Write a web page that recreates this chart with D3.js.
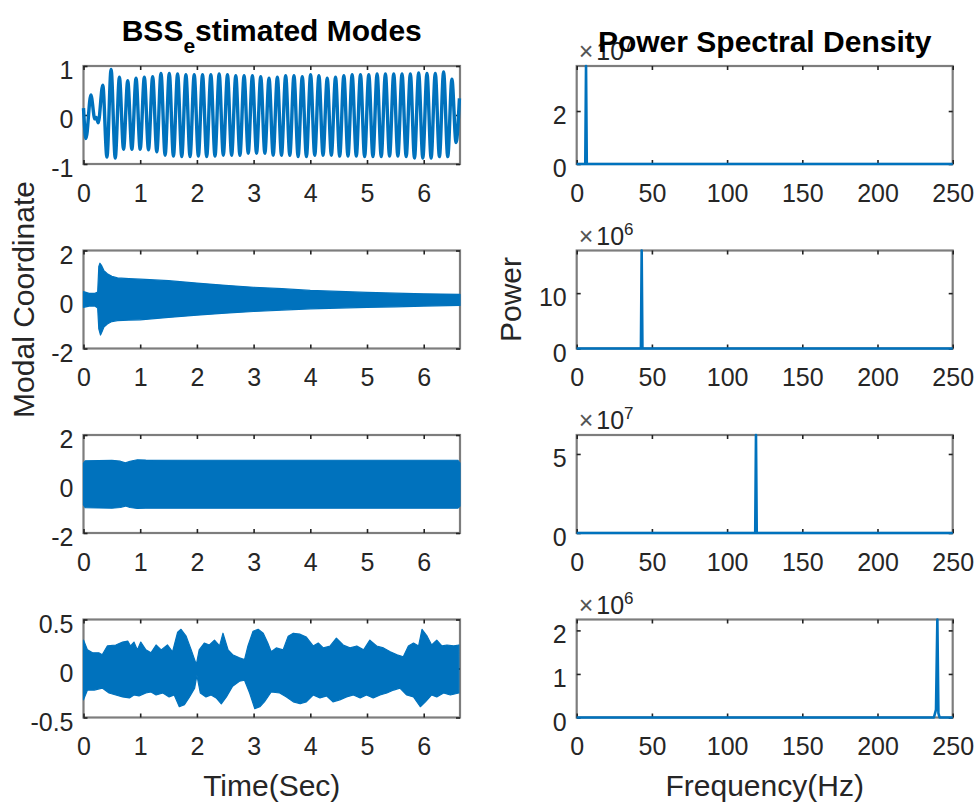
<!DOCTYPE html>
<html>
<head>
<meta charset="utf-8">
<script src="https://cdn.jsdelivr.net/npm/d3@7/dist/d3.min.js"></script>
<style>
  body { margin: 0; background: #fff; }
  text { font-family: "Liberation Sans", Arial, Helvetica, sans-serif; }
</style>
</head>
<body>
<svg id="fig" width="976" height="805"></svg>
<script>
// ---------------- data ----------------
const timeTicks = [0, 1, 2, 3, 4, 5, 6];
const timeMax = 6.64;
const freqTicks = [0, 50, 100, 150, 200, 250];
const freqMax = 250;

const modeYDomains = [[-1, 1], [-2, 2], [-2, 2], [-0.5, 0.5]];
const modeYTicks = [[-1, 0, 1], [-2, 0, 2], [-2, 0, 2], [-0.5, 0, 0.5]];

// Mode 1: turning points of the low-frequency mode
const mode1Onset = [[0, 0.14], [0.044, -0.48], [0.13, 0.41], [0.2, -0.08], [0.225, -0.05], [0.26, -0.16]];
const mode1FirstPeak = 0.34;
const mode1Period = 0.1466;
const mode1Peaks = [0.61, 0.93, 0.77, 0.70, 0.75, 0.77, 0.78, 0.85, 0.85, 0.84, 0.82, 0.82, 0.82, 0.82, 0.84,
  0.82, 0.80, 0.80, 0.80, 0.78, 0.75, 0.77, 0.80, 0.80, 0.78, 0.82, 0.80, 0.75, 0.77, 0.80, 0.82, 0.82, 0.82,
  0.84, 0.84, 0.84, 0.84, 0.84, 0.86, 0.85, 0.85, 0.88, 0.73];
const mode1Troughs = [-0.86, -0.88, -0.70, -0.70, -0.70, -0.71, -0.75, -0.82, -0.84, -0.85, -0.85, -0.84, -0.85,
  -0.84, -0.82, -0.82, -0.82, -0.78, -0.78, -0.78, -0.82, -0.82, -0.82, -0.85, -0.85, -0.82, -0.82, -0.82, -0.84,
  -0.84, -0.84, -0.85, -0.85, -0.85, -0.84, -0.84, -0.85, -0.88, -0.88, -0.88, -0.85, -0.85, -0.56];
const mode1Tail = [[6.63, 0.34]];

// Modes 2-4: upper / lower envelopes [time, value]
const mode2Upper = [[0, 0.32], [0.1, 0.25], [0.2, 0.25], [0.25, 0.3], [0.27, 1.35], [0.29, 1.48], [0.32, 1.38],
  [0.36, 1.18], [0.42, 1.05], [0.5, 0.95], [0.6, 0.88], [0.8, 0.85], [1.0, 0.83], [1.5, 0.77], [2.0, 0.67],
  [2.5, 0.58], [3.0, 0.5], [3.5, 0.44], [4.0, 0.37], [4.5, 0.33], [5.0, 0.29], [5.5, 0.26], [6.0, 0.23], [6.64, 0.21]];
const mode2Lower = [[0, -0.32], [0.1, -0.27], [0.2, -0.27], [0.25, -0.35], [0.27, -1.2], [0.3, -1.45], [0.33, -1.3],
  [0.36, -1.12], [0.42, -1.0], [0.5, -0.9], [0.6, -0.86], [0.8, -0.84], [1.0, -0.83], [1.5, -0.73], [2.0, -0.64],
  [2.5, -0.56], [3.0, -0.49], [3.5, -0.43], [4.0, -0.38], [4.5, -0.35], [5.0, -0.32], [5.5, -0.3], [6.0, -0.27], [6.64, -0.24]];

const mode3Upper = [[0, 0.85], [0.03, 0.95], [0.5, 0.97], [0.65, 0.93], [0.74, 0.86], [0.82, 0.93], [0.95, 0.99],
  [1.1, 0.98], [2.0, 0.97], [3.0, 0.97], [4.0, 0.97], [5.0, 0.97], [6.0, 0.97], [6.6, 0.97], [6.64, 0.85]];
const mode3Lower = [[0, -0.85], [0.03, -0.97], [0.5, -0.99], [0.65, -0.96], [0.74, -0.9], [0.82, -0.96], [0.95, -1.0],
  [1.1, -0.99], [2.0, -0.99], [3.0, -0.99], [4.0, -0.99], [5.0, -0.99], [6.0, -0.99], [6.6, -0.99], [6.64, -0.9]];

const mode4Upper = [[0.00, 0.29], [0.07, 0.19], [0.16, 0.16], [0.27, 0.16], [0.33, 0.14], [0.42, 0.23], [0.57, 0.24],
  [0.69, 0.27], [0.78, 0.28], [0.83, 0.23], [0.89, 0.27], [0.95, 0.19], [1.01, 0.27], [1.10, 0.19], [1.19, 0.16],
  [1.28, 0.24], [1.37, 0.19], [1.48, 0.24], [1.57, 0.17], [1.66, 0.37], [1.72, 0.40], [1.81, 0.33], [1.90, 0.19],
  [1.99, 0.04], [2.04, 0.19], [2.13, 0.26], [2.22, 0.24], [2.31, 0.29], [2.40, 0.23], [2.46, 0.36], [2.55, 0.19],
  [2.63, 0.14], [2.75, 0.11], [2.84, 0.09], [2.90, 0.23], [2.99, 0.38], [3.08, 0.40], [3.17, 0.36], [3.25, 0.26],
  [3.31, 0.17], [3.40, 0.21], [3.52, 0.19], [3.61, 0.33], [3.70, 0.36], [3.82, 0.35], [3.93, 0.32], [4.05, 0.23],
  [4.14, 0.26], [4.23, 0.21], [4.35, 0.23], [4.46, 0.31], [4.58, 0.24], [4.70, 0.21], [4.82, 0.23], [4.94, 0.19],
  [5.05, 0.29], [5.17, 0.23], [5.29, 0.21], [5.41, 0.17], [5.53, 0.14], [5.64, 0.12], [5.73, 0.23], [5.82, 0.26],
  [5.91, 0.23], [5.97, 0.40], [6.06, 0.33], [6.14, 0.24], [6.23, 0.29], [6.32, 0.23], [6.41, 0.24], [6.53, 0.23], [6.62, 0.24]];
const mode4Lower = [[0.00, -0.32], [0.07, -0.22], [0.19, -0.22], [0.33, -0.20], [0.45, -0.25], [0.57, -0.27],
  [0.69, -0.29], [0.81, -0.30], [0.89, -0.27], [0.98, -0.28], [1.10, -0.25], [1.19, -0.24], [1.28, -0.27],
  [1.40, -0.25], [1.51, -0.29], [1.60, -0.27], [1.69, -0.39], [1.78, -0.37], [1.87, -0.29], [1.96, -0.20],
  [2.00, -0.07], [2.06, -0.25], [2.16, -0.29], [2.25, -0.27], [2.34, -0.30], [2.43, -0.36], [2.52, -0.29],
  [2.63, -0.18], [2.75, -0.13], [2.84, -0.12], [2.93, -0.25], [3.02, -0.41], [3.11, -0.39], [3.19, -0.34],
  [3.31, -0.24], [3.46, -0.25], [3.58, -0.29], [3.70, -0.34], [3.82, -0.36], [3.93, -0.34], [4.05, -0.27],
  [4.17, -0.30], [4.29, -0.28], [4.40, -0.34], [4.52, -0.32], [4.64, -0.29], [4.76, -0.27], [4.88, -0.30],
  [4.99, -0.27], [5.11, -0.30], [5.23, -0.27], [5.35, -0.25], [5.47, -0.22], [5.58, -0.20], [5.70, -0.27],
  [5.82, -0.29], [5.94, -0.39], [6.03, -0.34], [6.14, -0.27], [6.23, -0.29], [6.35, -0.25], [6.47, -0.27], [6.62, -0.25]];

// Power spectral densities: frequency (Hz) and power
const psd1Freq = [0, 5.7, 6.2, 6.7, 250];
const psd1Power = [0, 0, 3.7e7, 0, 0];
const psd2Freq = [0, 42.7, 43.2, 43.7, 250];
const psd2Power = [0, 0, 1.77e7, 0, 0];
const psd3Freq = [0, 118.7, 119.2, 119.7, 250];
const psd3Power = [0, 0, 6.2e7, 0, 0];
const psd4Freq = [0, 237.5, 238.9, 239.8, 240.5, 241.3, 250];
const psd4Power = [0, 0, 0.18e6, 2.25e6, 0.1e6, 0, 0];

const psdExponents = [7, 6, 7, 6];
const psdYTicks = [[0, 2], [0, 10], [0, 5], [0, 1, 2]];   // in units of 10^exponent

// ---------------- layout ----------------
const svg = d3.select("#fig");
const blue = "#0072BD";
const textColor = "#262626";
const colX = [[83.5, 460], [576.7, 952.7]];
const rowTop = i => 66 + i * 184.5;
const rowH = 98;
const tickFont = 25;
const labelFont = 30;
// plain hyphen for negative tick labels
const plain = v => String(+v.toFixed(6));

function drawFrame(col, row, x, y, yTickValues, yTickFormat) {
  const [x0, x1] = colX[col];
  const top = rowTop(row), bottom = top + rowH;
  const g = svg.append("g");
  g.append("rect")
    .attr("x", x0).attr("y", top).attr("width", x1 - x0).attr("height", rowH)
    .attr("fill", "#fff").attr("stroke", "#7d7d7d").attr("stroke-width", 2.2);

  const xt = col === 0 ? timeTicks : freqTicks;
  const bx = g.append("g").attr("transform", `translate(0,${bottom})`)
    .call(d3.axisBottom(x).tickValues(xt).tickSize(-4).tickPadding(20).tickFormat(plain));
  const tx = g.append("g").attr("transform", `translate(0,${top})`)
    .call(d3.axisTop(x).tickValues(xt).tickSize(-4).tickFormat(""));
  const ly = g.append("g").attr("transform", `translate(${x0},0)`)
    .call(d3.axisLeft(y).tickValues(yTickValues).tickSize(-4).tickPadding(10).tickFormat(yTickFormat));
  const ry = g.append("g").attr("transform", `translate(${x1},0)`)
    .call(d3.axisRight(y).tickValues(yTickValues).tickSize(-4).tickFormat(""));
  [bx, tx, ly, ry].forEach(a => {
    a.select(".domain").remove();
    a.selectAll(".tick line").attr("stroke", "#222").attr("stroke-width", 1.6);
    a.selectAll("text").attr("fill", textColor).style("font-size", tickFont + "px")
      .style("font-family", '"Liberation Sans", Arial, sans-serif');
  });
  ly.selectAll("text").attr("dy", "0.5em");
  return g;
}

// ---------------- time-domain modes ----------------
const mode1Points = mode1Onset.slice();
mode1Peaks.forEach((p, k) => {
  mode1Points.push([mode1FirstPeak + k * mode1Period, p]);
  mode1Points.push([mode1FirstPeak + (k + 0.5) * mode1Period, mode1Troughs[k]]);
});
mode1Tail.forEach(p => mode1Points.push(p));

const bands = [null, [mode2Upper, mode2Lower], [mode3Upper, mode3Lower], [mode4Upper, mode4Lower]];

for (let r = 0; r < 4; r++) {
  const x = d3.scaleLinear().domain([0, timeMax]).range(colX[0]);
  const y = d3.scaleLinear().domain(modeYDomains[r]).range([rowTop(r) + rowH, rowTop(r)]);
  const g = drawFrame(0, r, x, y, modeYTicks[r], plain);
  if (r === 0) {
    g.append("path")
      .attr("d", d3.line().x(d => x(d[0])).y(d => y(d[1])).curve(d3.curveMonotoneX)(mode1Points))
      .attr("fill", "none").attr("stroke", blue).attr("stroke-width", 3.4).attr("stroke-linejoin", "round");
  } else {
    const [up, lo] = bands[r];
    const outline = up.concat(lo.slice().reverse());
    g.append("path")
      .attr("d", d3.line().x(d => x(d[0])).y(d => y(d[1]))(outline) + "Z")
      .attr("fill", blue).attr("stroke", blue).attr("stroke-width", 1.2).attr("stroke-linejoin", "round");
  }
}

// ---------------- spectra ----------------
const psdFreqs = [psd1Freq, psd2Freq, psd3Freq, psd4Freq];
const psdPowers = [psd1Power, psd2Power, psd3Power, psd4Power];

for (let r = 0; r < 4; r++) {
  const scale = Math.pow(10, psdExponents[r]);
  const x = d3.scaleLinear().domain([0, freqMax]).range(colX[1]);
  const y = d3.scaleLinear().domain([0, d3.max(psdPowers[r])]).range([rowTop(r) + rowH, rowTop(r)]);
  const g = drawFrame(1, r, x, y, psdYTicks[r].map(v => v * scale), v => plain(v / scale));
  const pts = psdFreqs[r].map((f, i) => [f, psdPowers[r][i]]);
  g.append("path")
    .attr("d", d3.line().x(d => x(d[0])).y(d => y(d[1]))(pts))
    .attr("fill", "none").attr("stroke", blue).attr("stroke-width", 2.6).attr("stroke-linejoin", "round");

  // exponent label above the y axis
  const ex = g.append("text")
    .attr("x", colX[1][0] + 2).attr("y", rowTop(r) - 6)
    .attr("fill", textColor).style("font-size", tickFont + "px");
  ex.append("tspan").attr("fill", "#555").text("\u00d7");
  ex.append("tspan").attr("dx", 3).text("10");
  ex.append("tspan").attr("dy", -10).style("font-size", "17px").text(psdExponents[r]);
}

// ---------------- titles and labels ----------------
const leftMid = (colX[0][0] + colX[0][1]) / 2;
const rightMid = (colX[1][0] + colX[1][1]) / 2;

const t1 = svg.append("text").attr("x", leftMid).attr("y", 41).attr("text-anchor", "middle")
  .attr("fill", "#000").style("font-size", labelFont + "px").style("font-weight", "bold");
t1.append("tspan").text("BSS");
t1.append("tspan").attr("dy", 12).style("font-size", "21px").text("e");
t1.append("tspan").attr("dy", -12).text("stimated Modes");

svg.append("text").attr("x", rightMid).attr("y", 52).attr("text-anchor", "middle")
  .attr("fill", "#000").style("font-size", labelFont + "px").style("font-weight", "bold")
  .text("Power Spectral Density");

svg.append("text").attr("x", leftMid).attr("y", 796).attr("text-anchor", "middle")
  .attr("fill", textColor).style("font-size", labelFont + "px").text("Time(Sec)");
svg.append("text").attr("x", rightMid).attr("y", 796).attr("text-anchor", "middle")
  .attr("fill", textColor).style("font-size", labelFont + "px").text("Frequency(Hz)");

const rowMid = rowTop(1) + rowH / 2;
svg.append("text").attr("transform", `translate(34,${rowMid}) rotate(-90)`).attr("text-anchor", "middle")
  .attr("fill", textColor).style("font-size", labelFont + "px").text("Modal Coordinate");
svg.append("text").attr("transform", `translate(521,${rowMid}) rotate(-90)`).attr("text-anchor", "middle")
  .attr("fill", textColor).style("font-size", labelFont + "px").text("Power");
</script>
</body>
</html>
